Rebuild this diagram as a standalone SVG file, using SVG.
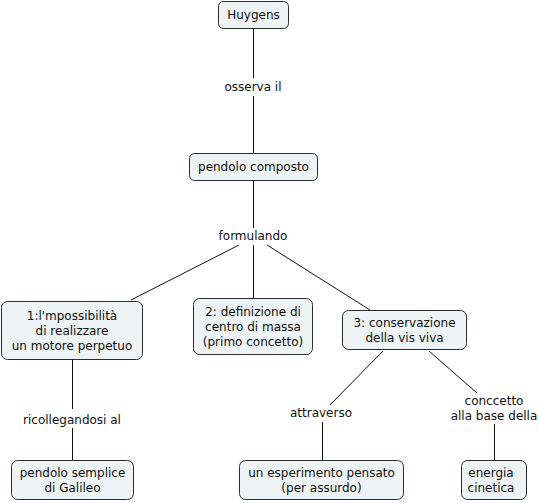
<svg xmlns="http://www.w3.org/2000/svg" width="539" height="503" viewBox="0 0 539 503">
<style>
.n rect{fill:#eef3f5;stroke:#2b2b2b;stroke-width:1}
text{font-family:"DejaVu Sans","Verdana",sans-serif;font-size:12px;fill:#111;text-anchor:middle}
.c line{stroke:#111;stroke-width:1}
</style>
<rect width="539" height="503" fill="#fff"/>
<g class="c" id="connectors">
<line x1="253.5" y1="29" x2="253.5" y2="78"/>
<line x1="253.5" y1="96" x2="253.5" y2="153"/>
<line x1="253.5" y1="181" x2="253.5" y2="228"/>
<line x1="239" y1="245" x2="131" y2="300"/>
<line x1="253.5" y1="245" x2="253.5" y2="298"/>
<line x1="267" y1="245" x2="370" y2="310"/>
<line x1="72.5" y1="360" x2="72.5" y2="409"/>
<line x1="72.5" y1="428" x2="72.5" y2="460"/>
<line x1="383" y1="351" x2="330" y2="405"/>
<line x1="322.5" y1="422" x2="322.5" y2="460"/>
<line x1="429" y1="351" x2="477" y2="393"/>
<line x1="494.5" y1="424" x2="494.5" y2="460"/>
</g>
<g id="labels">
<text x="253" y="91">osserva il</text>
<text x="253" y="240">formulando</text>
<text x="72" y="424">ricollegandosi al</text>
<text x="321" y="417">attraverso</text>
<text x="494" y="405">conccetto</text>
<text x="494" y="420">alla base della</text>
</g>
<g class="n" id="huygens"><rect x="218.5" y="1.5" width="70" height="27" rx="5"/><text x="253.5" y="19">Huygens</text></g>
<g class="n" id="pendolo-composto"><rect x="189.5" y="153.5" width="128" height="27" rx="5"/><text x="253.5" y="171">pendolo composto</text></g>
<g class="n" id="impossibilita"><rect x="1.5" y="301.5" width="141" height="58" rx="6"/><text x="72" y="320">1:l'mpossibilità</text><text x="72" y="335">di realizzare</text><text x="72" y="350">un motore perpetuo</text></g>
<g class="n" id="centro-massa"><rect x="193.5" y="298.5" width="119" height="56" rx="6"/><text x="253" y="316">2: definizione di</text><text x="253" y="331">centro di massa</text><text x="253" y="346">(primo concetto)</text></g>
<g class="n" id="vis-viva"><rect x="342.5" y="310.5" width="124" height="39" rx="6"/><text x="404.5" y="327">3: conservazione</text><text x="404.5" y="342">della vis viva</text></g>
<g class="n" id="galileo"><rect x="11.5" y="460.5" width="122" height="39" rx="6"/><text x="72.5" y="477">pendolo semplice</text><text x="72.5" y="492">di Galileo</text></g>
<g class="n" id="esperimento"><rect x="239.5" y="460.5" width="164" height="39" rx="6"/><text x="321.5" y="477">un esperimento pensato</text><text x="321.5" y="492">(per assurdo)</text></g>
<g class="n" id="energia"><rect x="461.5" y="460.5" width="65" height="39" rx="6"/><text x="491" y="477">energia</text><text x="491" y="492">cinetica</text></g>
</svg>
